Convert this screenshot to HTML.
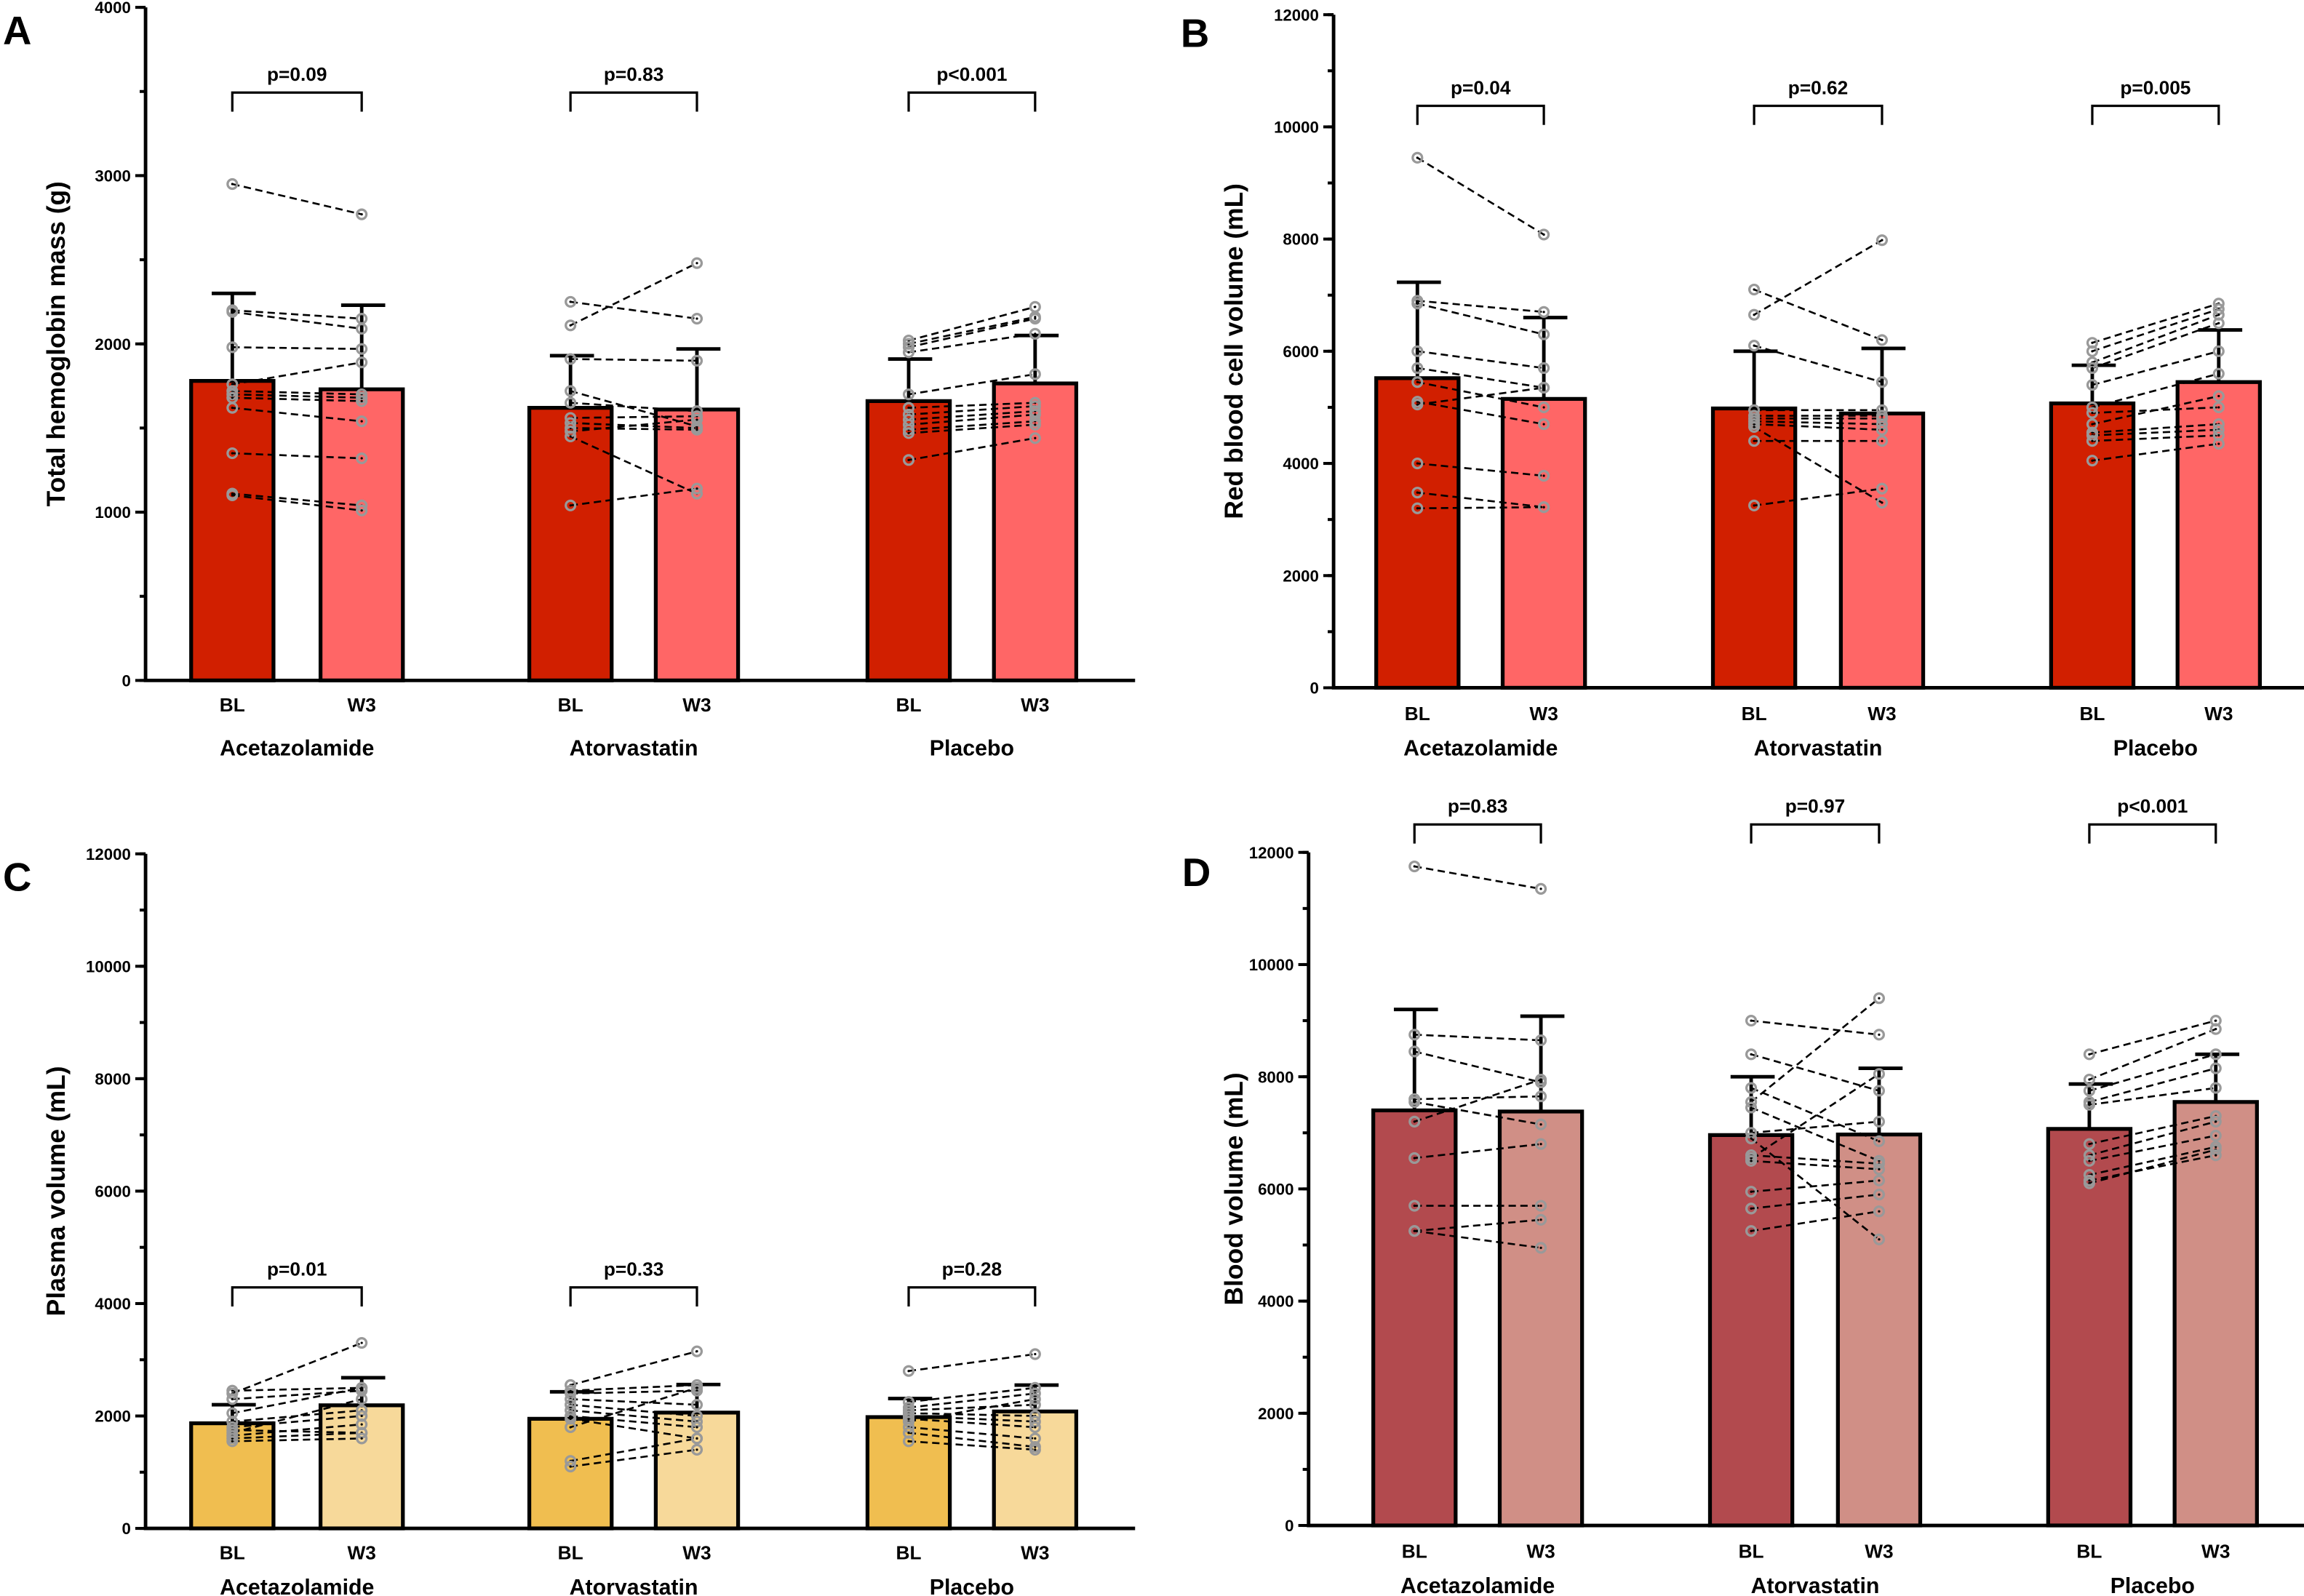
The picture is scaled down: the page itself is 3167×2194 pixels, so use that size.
<!DOCTYPE html>
<html><head><meta charset="utf-8">
<style>
html,body{margin:0;padding:0;background:#fff;}
svg{display:block;}
text{font-family:"Liberation Sans",sans-serif;font-weight:bold;fill:#000;}
</style></head>
<body>
<svg id="fig" width="3167" height="2194" viewBox="0 0 1567 1086" preserveAspectRatio="none" xmlns="http://www.w3.org/2000/svg"></svg>
<script>
// ---------- data ----------
const groups = ["Acetazolamide","Atorvastatin","Placebo"];
const timeLabels = ["BL","W3"];

// Panel A: total hemoglobin mass (g)
const aMeans = [[1780,1730],[1620,1610],[1660,1765]];
const aErr = [[2300,2230],[1930,1970],[1910,2050]];
const aP = ["p=0.09","p=0.83","p<0.001"];
const aAcetBL = [2950,2200,2190,1980,1760,1720,1700,1680,1620,1350,1110,1100];
const aAcetW3 = [2770,2150,2090,1970,1890,1700,1680,1660,1540,1320,1040,1010];
const aAtorBL = [2250,2110,1910,1720,1650,1560,1530,1500,1480,1450,1040];
const aAtorW3 = [2150,2480,1900,1510,1600,1570,1500,1490,1550,1110,1140];
const aPlacBL = [2020,2000,1980,1950,1700,1620,1580,1550,1520,1490,1470,1310];
const aPlacW3 = [2220,2160,2150,2060,1820,1650,1630,1600,1580,1540,1520,1440];

// Panel B: red blood cell volume (mL)
const bMeans = [[5520,5150],[4980,4890],[5070,5450]];
const bErr = [[7230,6600],[6000,6050],[5750,6380]];
const bP = ["p=0.04","p=0.62","p=0.005"];
const bAcetBL = [9450,6900,6850,6000,5700,5450,5100,5050,4000,3480,3200];
const bAcetW3 = [8080,6700,6300,5700,5350,5000,4700,5350,3780,3220,3220];
const bAtorBL = [7100,6650,6100,4950,4850,4800,4750,4700,4650,4400,3250];
const bAtorW3 = [6200,7980,5450,4950,4850,4800,4700,4600,3300,4400,3550];
const bPlacBL = [6150,6000,5800,5700,5400,5000,4900,4700,4550,4500,4400,4050];
const bPlacW3 = [6850,6750,6650,6500,6000,5600,5000,5200,4700,4600,4500,4350];

// Panel C: plasma volume (mL)
const cMeans = [[1870,2190],[1950,2060],[1980,2080]];
const cErr = [[2200,2680],[2430,2560],[2310,2550]];
const cP = ["p=0.01","p=0.33","p=0.28"];
const cAcetBL = [2450,2400,2300,2050,1900,1800,1750,1700,1650,1600,1550];
const cAcetW3 = [2500,3300,2450,2500,2100,2000,1700,2300,1850,1700,1600];
const cAtorBL = [2550,2450,2400,2300,2200,2100,2000,1950,1800,1200,1100];
const cAtorW3 = [3150,2550,2450,2200,2000,1900,1800,1600,2500,1600,1400];
const cPlacBL = [2800,2250,2150,2100,2050,2000,1950,1900,1800,1700,1550];
const cPlacW3 = [3100,2500,2400,2200,2000,1900,1800,2300,1600,1450,1400];

// Panel D: blood volume (mL)
const dMeans = [[7400,7380],[6960,6970],[7070,7550]];
const dErr = [[9200,9080],[8000,8150],[7870,8400]];
const dP = ["p=0.83","p=0.97","p<0.001"];
const dAcetBL = [11750,8750,8450,7600,7550,7200,6550,5700,5250,5250];
const dAcetW3 = [11350,8650,7900,7650,7150,7950,6800,5700,5450,4950];
const dAtorBL = [9000,8400,7800,7550,7450,7000,6900,6600,6550,6500,5950,5650,5250];
const dAtorW3 = [8750,7750,6850,9400,6500,7200,5100,6450,8050,6350,6150,5900,5600];
const dPlacBL = [8400,7950,7750,7550,7500,6800,6600,6500,6250,6100,6150];
const dPlacW3 = [9000,8850,8400,8150,7800,7300,7200,6950,6750,6700,6600];

const yTicksA = [0,1000,2000,3000,4000];
const yTicks12k = [0,2000,4000,6000,8000,10000,12000];

// ---------- drawing ----------
const svg = document.getElementById('fig');
const NS = "http://www.w3.org/2000/svg";
function mk(tag, attrs, parent){
  const e = document.createElementNS(NS, tag);
  for (const k in attrs) e.setAttribute(k, attrs[k]);
  (parent||svg).appendChild(e);
  return e;
}

const panels = [
  {id:"a", letter:"A", lx:2, ly:30, ax:99, y0:463, y1:5, xEnd:772, max:4000, ticks:yTicksA, minor:500,
   title:"Total hemoglobin mass (g)", tx:38, bars:[[130,218],[360,446],[590,676]], bw:56,
   brY:63, tickLblY:484, grpY:514, colors:["#d11f00","#ff6666"],
   means:aMeans, err:aErr, p:aP, pts:[[aAcetBL,aAcetW3],[aAtorBL,aAtorW3],[aPlacBL,aPlacW3]]},
  {id:"b", letter:"B", lx:803, ly:32, ax:907, y0:468, y1:10, xEnd:1567, max:12000, ticks:yTicks12k, minor:1000,
   title:"Red blood cell volume (mL)", tx:846, bars:[[936,1022],[1165,1252],[1395,1481]], bw:56,
   brY:72, tickLblY:490, grpY:514, colors:["#d11f00","#ff6666"],
   means:bMeans, err:bErr, p:bP, pts:[[bAcetBL,bAcetW3],[bAtorBL,bAtorW3],[bPlacBL,bPlacW3]]},
  {id:"c", letter:"C", lx:2, ly:606, ax:99, y0:1040, y1:581, xEnd:772, max:12000, ticks:yTicks12k, minor:1000,
   title:"Plasma volume (mL)", tx:38, bars:[[130,218],[360,446],[590,676]], bw:56,
   brY:876, tickLblY:1061, grpY:1085, colors:["#f0be50","#f7d99a"],
   means:cMeans, err:cErr, p:cP, pts:[[cAcetBL,cAcetW3],[cAtorBL,cAtorW3],[cPlacBL,cPlacW3]]},
  {id:"d", letter:"D", lx:804, ly:603, ax:890, y0:1038, y1:580, xEnd:1567, max:12000, ticks:yTicks12k, minor:1000,
   title:"Blood volume (mL)", tx:846, bars:[[934,1020],[1163,1250],[1393,1479]], bw:56,
   brY:561, tickLblY:1060, grpY:1084, colors:["#b24a4e","#d08f86"],
   means:dMeans, err:dErr, p:dP, pts:[[dAcetBL,dAcetW3],[dAtorBL,dAtorW3],[dPlacBL,dPlacW3]]}
];

panels.forEach(P => {
  const g = mk('g', {});
  
  
  const y = v => P.y0 - (v / P.max) * (P.y0 - P.y1);

  const L = mk('text', {x:P.lx, y:P.ly, 'font-size':27}, g);
  L.textContent = P.letter;
  
  

  P.bars.forEach((pair, gi) => {
    pair.forEach((bx, ti) => {
      const cx = bx + P.bw/2;
      const b = mk('rect', {x:bx, y:y(P.means[gi][ti]), width:P.bw, height:P.y0 - y(P.means[gi][ti]),
        fill:P.colors[ti], stroke:'#000', 'stroke-width':2.6}, g);
      
      
      const e = mk('path', {d:`M${cx},${y(P.means[gi][ti])}V${y(P.err[gi][ti])}M${cx-14},${y(P.err[gi][ti])}H${cx+16}`,
        stroke:'#000', 'stroke-width':2.4, fill:'none'}, g);
      
      
      const t = mk('text', {x:cx, y:P.tickLblY, 'font-size':13, 'text-anchor':'middle'}, g);
      t.textContent = timeLabels[ti];
      
      
    });
    const c0 = pair[0] + P.bw/2, c1 = pair[1] + P.bw/2;
    const gl = mk('text', {x:(c0+c1)/2, y:P.grpY, 'font-size':15, 'text-anchor':'middle'}, g);
    gl.textContent = groups[gi];
    
    
    const br = mk('path', {d:`M${c0},${P.brY+13}V${P.brY}H${c1}V${P.brY+13}`, stroke:'#000', 'stroke-width':1.6, fill:'none'}, g);
    
    
    const pt = mk('text', {x:(c0+c1)/2, y:P.brY-8, 'font-size':13, 'text-anchor':'middle'}, g);
    pt.textContent = P.p[gi];
    
    
    const bl = P.pts[gi][0], w3 = P.pts[gi][1];
    for (let i = 0; i < bl.length; i++) {
      const ln = mk('line', {x1:c0, y1:y(bl[i]), x2:c1, y2:y(w3[i]), stroke:'#000', 'stroke-width':1.3, 'stroke-dasharray':'5,3'}, g);
      
      
    }
    [[c0,bl],[c1,w3]].forEach(([cx, arr]) => arr.forEach(v => {
      const c = mk('circle', {cx:cx, cy:y(v), r:3.2, fill:'none', stroke:'#999', 'stroke-width':1.6}, g);
      
      
      mk('circle', {cx:cx, cy:y(v), r:0.8, fill:'#000'}, g);
    }));
  });

  const ax = mk('path', {d:`M${P.ax},${P.y1}V${P.y0}H${P.xEnd}`, stroke:'#000', 'stroke-width':2.4, fill:'none'}, g);
  
  
  for (let v = 0; v <= P.max; v += P.minor) {
    mk('line', {x1:P.ax-4, x2:P.ax, y1:y(v), y2:y(v), stroke:'#000', 'stroke-width':2}, g);
  }
  P.ticks.forEach(v => {
    mk('line', {x1:P.ax-7, x2:P.ax, y1:y(v), y2:y(v), stroke:'#000', 'stroke-width':2}, g);
    const t = mk('text', {x:P.ax-10, y:y(v)+4, 'font-size':11, 'text-anchor':'end'}, g);
    t.textContent = v;
    
    
  });
  const yt = mk('text', {x:0, y:0, 'font-size':17.5, 'text-anchor':'middle',
    transform:`translate(${P.tx + (P.id==='b'||P.id==='d'? -1:6)},${(P.y0+P.y1)/2}) rotate(-90)`}, g);
  yt.textContent = P.title;
  
  
});
</script>
</body></html>
